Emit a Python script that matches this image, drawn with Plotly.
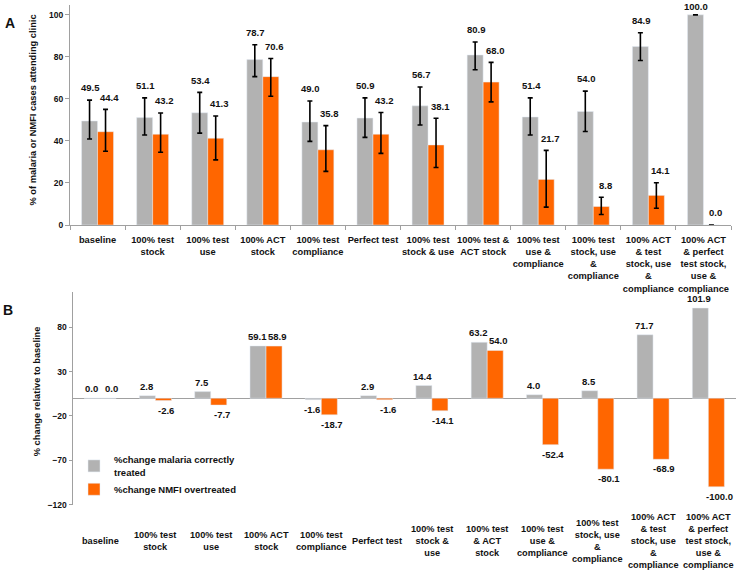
import plotly.graph_objects as go

# ---------------- data ----------------
top_labels = ["baseline", "100% test<br>stock", "100% test<br>use", "100% ACT<br>stock",
              "100% test<br>compliance", "Perfect test", "100% test<br>stock & use",
              "100% test &<br>ACT stock", "100% test<br>use &<br>compliance",
              "100% test<br>stock, use<br>&<br>compliance",
              "100% ACT<br>& test<br>stock, use<br>&<br>compliance",
              "100% ACT<br>& perfect<br>test stock,<br>use &<br>compliance"]
bottom_labels = ["baseline", "100% test<br>stock", "100% test<br>use", "100% ACT<br>stock",
                 "100% test<br>compliance", "Perfect test", "100% test<br>stock &<br>use",
                 "100% test<br>& ACT<br>stock", "100% test<br>use &<br>compliance",
                 "100% test<br>stock, use<br>&<br>compliance",
                 "100% ACT<br>& test<br>stock, use<br>&<br>compliance",
                 "100% ACT<br>& perfect<br>test stock,<br>use &<br>compliance"]

malaria_treated = [49.5, 51.1, 53.4, 78.7, 49.0, 50.9, 56.7, 80.9, 51.4, 54.0, 84.9, 100.0]
malaria_upper = [59.4, 60.5, 63.1, 85.8, 59.0, 60.5, 65.7, 87.1, 60.5, 63.7, 91.5, 100.0]
malaria_lower = [40.9, 42.8, 43.7, 70.6, 39.8, 41.7, 47.6, 73.9, 42.8, 44.5, 78.3, 100.0]

nmfi_treated = [44.4, 43.2, 41.3, 70.6, 35.8, 43.2, 38.1, 68.0, 21.7, 8.8, 14.1, 0.0]
nmfi_upper = [55.0, 53.3, 51.9, 79.2, 47.3, 53.5, 50.8, 77.4, 35.5, 13.2, 20.1, 0.0]
nmfi_lower = [35.1, 34.6, 31.0, 61.3, 25.5, 34.1, 27.4, 58.6, 8.5, 5.0, 8.0, 0.0]

pct_malaria = [0.0, 2.8, 7.5, 59.1, -1.6, 2.9, 14.4, 63.2, 4.0, 8.5, 71.7, 101.9]
pct_nmfi = [0.0, -2.6, -7.7, 58.9, -18.7, -1.6, -14.1, 54.0, -52.4, -80.1, -68.9, -100.0]

top_yticks = [0, 20, 40, 60, 80, 100]
bottom_yticks = [-120, -70, -20, 30, 80]

# ---------------- style ----------------
GRAY = "#B2B2B2"
ORANGE = "#FF6600"
AXIS = "#A0A0A0"
FAM = "Liberation Sans, Arial, sans-serif"
TXT = "#111111"
TOP_MAX = 104.7


def f(size):
    return dict(family=FAM, size=size, color=TXT, weight="bold")


fig = go.Figure()

# top panel
fig.add_trace(go.Bar(
    x=top_labels, y=malaria_treated, marker_color=GRAY, showlegend=False,
    error_y=dict(type="data", symmetric=False,
                 array=[u - v for u, v in zip(malaria_upper, malaria_treated)],
                 arrayminus=[v - l for v, l in zip(malaria_treated, malaria_lower)],
                 color="black", thickness=1.6, width=2.5),
    xaxis="x", yaxis="y"))
fig.add_trace(go.Bar(
    x=top_labels, y=nmfi_treated, marker_color=ORANGE, showlegend=False,
    error_y=dict(type="data", symmetric=False,
                 array=[u - v for u, v in zip(nmfi_upper, nmfi_treated)],
                 arrayminus=[v - l for v, l in zip(nmfi_treated, nmfi_lower)],
                 color="black", thickness=1.6, width=2.5),
    xaxis="x", yaxis="y"))

# bottom panel
fig.add_trace(go.Bar(
    x=bottom_labels, y=pct_malaria, marker_color=GRAY,
    name="%change malaria correctly<br>treated",
    xaxis="x2", yaxis="y2"))
fig.add_trace(go.Bar(
    x=bottom_labels, y=pct_nmfi, marker_color=ORANGE,
    name="%change NMFI overtreated",
    xaxis="x2", yaxis="y2"))

annotations = []


def top_label(lab, v, u, xshift):
    return dict(x=lab, y=min(u + 5.8, TOP_MAX - 0.5), xref="x", yref="y",
                text=f"{v:.1f}", showarrow=False, xshift=xshift,
                yanchor="middle", font=f(9.5))


for lab, v, u in zip(top_labels, malaria_treated, malaria_upper):
    annotations.append(top_label(lab, v, u, -7))
for lab, v, u in zip(top_labels, nmfi_treated, nmfi_upper):
    annotations.append(top_label(lab, v, u, 12))


def bottom_label(lab, v, xshift):
    neg = v < 0
    return dict(x=lab, y=v, xref="x2", yref="y2", text=f"{v:.1f}",
                showarrow=False, xshift=xshift,
                yanchor="top" if neg else "bottom", yshift=-2 if neg else 2,
                font=f(9.5))


for lab, v in zip(bottom_labels, pct_malaria):
    annotations.append(bottom_label(lab, v, -9))
for lab, v in zip(bottom_labels, pct_nmfi):
    annotations.append(bottom_label(lab, v, 11))

# bottom category labels (vertically centred)
for lab in bottom_labels:
    annotations.append(dict(x=lab, y=1 - 546 / 572, xref="x2", yref="paper", text=lab,
                            showarrow=False, yanchor="middle", font=f(9.2)))
# axis titles and panel letters
annotations += [
    dict(x=33 / 744, y=0.805, xref="paper", yref="paper", textangle=-90,
         text="% of malaria or NMFI cases attending clinic", showarrow=False,
         font=f(9.3), xanchor="center", yanchor="middle"),
    dict(x=37 / 744, y=0.310, xref="paper", yref="paper", textangle=-90,
         text="% change relative to baseline", showarrow=False,
         font=f(9.3), xanchor="center", yanchor="middle"),
    dict(x=10 / 744, y=1 - 23 / 572, xref="paper", yref="paper", text="A",
         showarrow=False, font=f(14), xanchor="center", yanchor="middle"),
    dict(x=8 / 744, y=1 - 313 / 572, xref="paper", yref="paper", text="B",
         showarrow=False, font=f(14), xanchor="center", yanchor="middle"),
]

fig.update_layout(
    width=744, height=572,
    margin=dict(l=0, r=0, t=0, b=0),
    paper_bgcolor="white", plot_bgcolor="white",
    font=f(9.5),
    barmode="group", bargap=0.42, bargroupgap=0,
    xaxis=dict(domain=[70 / 744, 731 / 744], anchor="y", type="category",
               showline=True, linecolor=AXIS, linewidth=1,
               ticks="outside", tickson="boundaries", ticklen=4, tickcolor=AXIS,
               tickangle=0, tickfont=f(9.3), ticklabelstandoff=6, showgrid=False),
    yaxis=dict(domain=[1 - 227 / 572, 1 - 5 / 572], anchor="x",
               range=[0, TOP_MAX], tickvals=top_yticks,
               showline=True, linecolor=AXIS, linewidth=1,
               ticks="outside", ticklen=4, tickcolor=AXIS,
               tickfont=f(8.5), showgrid=False, zeroline=False),
    xaxis2=dict(domain=[72.5 / 744, 736 / 744], anchor="y2", type="category",
                showline=False, showticklabels=False, ticks="", showgrid=False),
    yaxis2=dict(domain=[1 - 509 / 572, 1 - 295 / 572], anchor="x2",
                range=[-120, 119.5], tickvals=bottom_yticks,
                showline=True, linecolor=AXIS, linewidth=1,
                ticks="outside", ticklen=3, tickcolor=AXIS,
                tickfont=f(8.5), showgrid=False,
                zeroline=True, zerolinecolor=AXIS, zerolinewidth=1),
    legend=dict(x=74 / 744, y=1 - 451 / 572, xanchor="left", yanchor="top",
                font=f(9.5), bgcolor="rgba(0,0,0,0)", tracegroupgap=0,
                itemwidth=30),
    annotations=annotations,
)

fig.write_html("out.html", config={"displayModeBar": False},
               post_script="document.body.style.margin='0px';")
